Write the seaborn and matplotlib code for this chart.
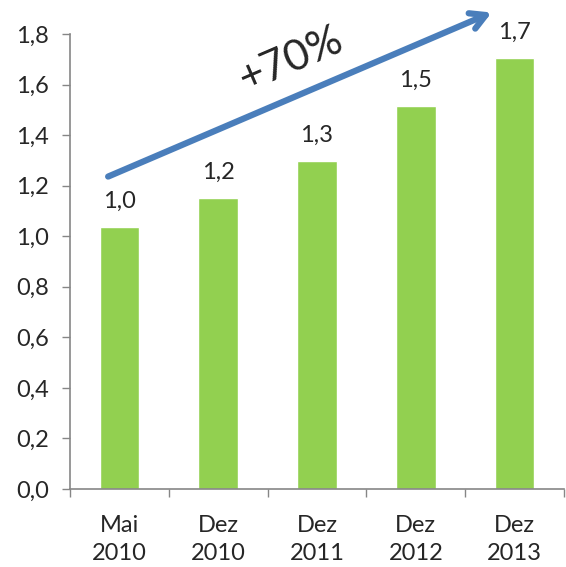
import matplotlib
matplotlib.use("Agg")
import matplotlib.pyplot as plt
import seaborn as sns
import pandas as pd
import numpy as np

categories = ["Mai\n2010", "Dez\n2010", "Dez\n2011", "Dez\n2012", "Dez\n2013"]
values = [1.036, 1.152, 1.298, 1.516, 1.706]
value_labels = ["1,0", "1,2", "1,3", "1,5", "1,7"]
y_ticks = [0.0, 0.2, 0.4, 0.6, 0.8, 1.0, 1.2, 1.4, 1.6, 1.8]
y_tick_labels = ["0,0", "0,2", "0,4", "0,6", "0,8", "1,0", "1,2", "1,4", "1,6", "1,8"]
growth_label = "+70%"

sns.set_theme(style="white")
plt.rcParams['font.family'] = ['Lato', 'DejaVu Sans']

df = pd.DataFrame({"cat": categories, "val": values})

fig = plt.figure(figsize=(5.66, 5.67), dpi=100)
ax = fig.add_axes([70 / 566, 1 - 489 / 567, 494 / 566, 455 / 567])
sns.barplot(data=df, x="cat", y="val", color="#92D050", saturation=1, width=0.4, ax=ax)

ax.set_xlim(-0.5, len(categories) - 0.5)
ax.set_ylim(0, 1.8)
ax.set_yticks(y_ticks)
ax.set_yticklabels(y_tick_labels, fontsize=17)
ax.set_xlabel("")
ax.set_ylabel("")
ax.tick_params(axis="x", which="major", length=0, labelsize=17, pad=19)
for t in ax.get_xticklabels():
    t.set_linespacing(1.4)
ax.set_xticks(np.arange(-0.5, len(categories) - 0.4, 1.0), minor=True)
ax.tick_params(axis="x", which="minor", length=6, color="#868686", width=1, direction="out")
ax.tick_params(axis="y", length=6, color="#868686", width=1, direction="out", pad=9)
ax.tick_params(axis="x", which="major", bottom=False)
ax.tick_params(axis="x", which="minor", bottom=True)
ax.tick_params(axis="y", left=True)
for s in ["top", "right"]:
    ax.spines[s].set_visible(False)
for s in ["left", "bottom"]:
    ax.spines[s].set_color("#868686")
    ax.spines[s].set_linewidth(1.2)

for i, (v, lab) in enumerate(zip(values, value_labels)):
    ax.annotate(lab, (i, v), xytext=(0, 11), textcoords="offset points",
                ha="center", va="bottom", fontsize=17)

ax.annotate("", xy=(3.768, 1.885), xytext=(-0.114, 1.236), xycoords="data",
            annotation_clip=False,
            arrowprops=dict(arrowstyle="->,head_length=0.9,head_width=0.5",
                            color="#4A7EBB", lw=4.5, shrinkA=0, shrinkB=0))
ax.text(1.736, 1.70, growth_label, rotation=23.2, fontsize=31, ha="center", va="center",
        rotation_mode="anchor")

fig.savefig("out.png", dpi=100)
